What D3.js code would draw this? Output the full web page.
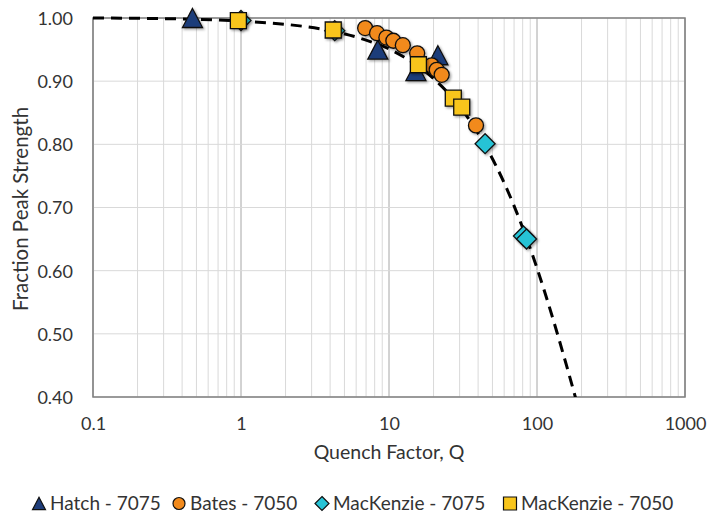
<!DOCTYPE html>
<html><head><meta charset="utf-8">
<script src="https://cdn.jsdelivr.net/npm/d3@7/dist/d3.min.js"></script>
<style>
body{margin:0;background:#fff;}
svg text{font-family:Lato,"Open Sans",sans-serif;fill:#333;}
</style></head>
<body><svg id="c" width="707" height="514"></svg>
<script>
// ---- data ----
const hatchQ = [0.47, 8.4, 15.2, 21.4];
const hatchV = [1.000, 0.950, 0.916, 0.941];
const batesQ = [6.9, 8.3, 9.6, 10.7, 12.4, 15.5, 19.4, 21.0, 22.7, 38.7];
const batesV = [0.984, 0.976, 0.969, 0.964, 0.957, 0.944, 0.925, 0.918, 0.910, 0.830];
const mack75Q = [1.0, 4.3, 44.6, 81, 85];
const mack75V = [0.996, 0.980, 0.801, 0.655, 0.650];
const mack50Q = [0.96, 4.2, 15.8, 27.2, 31.0];
const mack50V = [0.996, 0.981, 0.926, 0.873, 0.859];
// dashed fit curve
const fitQ = [0.1, 0.5, 1, 2, 4, 7, 10, 15, 20, 30, 45, 60, 80, 100, 130, 160, 182];
const fitV = [1.000, 0.998, 0.995, 0.990, 0.980, 0.965, 0.951, 0.927, 0.904, 0.860, 0.797, 0.739, 0.668, 0.604, 0.519, 0.446, 0.399];
const xTicks = [0.1, 1, 10, 100, 1000];
const xTickLabels = ["0.1", "1", "10", "100", "1000"];
const yTicks = [0.4, 0.5, 0.6, 0.7, 0.8, 0.9, 1.0];
const seriesNames = ["Hatch - 7075", "Bates - 7050", "MacKenzie - 7075", "MacKenzie - 7050"];
const seriesColors = ["#1f3d7a", "#f28a1c", "#27c3d6", "#f8c51c"];
const seriesShapes = ["triangle", "circle", "diamond", "square"];

const svg = d3.select("#c");
const L = 93, R = 685, T = 18, B = 397;
const x = d3.scaleLog().domain([0.1, 1000]).range([L, R]);
const y = d3.scaleLinear().domain([0.4, 1.0]).range([B, T]);

const defs = svg.append("defs");
const f = defs.append("filter").attr("id","sh").attr("x","-50%").attr("y","-50%").attr("width","200%").attr("height","200%");
f.append("feDropShadow").attr("dx",1.5).attr("dy",1.5).attr("stdDeviation",1.2).attr("flood-color","#000").attr("flood-opacity",0.35);
defs.append("clipPath").attr("id","clip").append("rect").attr("x",L).attr("y",T-2).attr("width",R-L).attr("height",B-T+2);

// grid
const g = svg.append("g");
g.selectAll(".vg").data(x.ticks()).join("line")
  .attr("x1", d => x(d)).attr("x2", d => x(d)).attr("y1", T).attr("y2", B)
  .attr("stroke", d => xTicks.includes(d) ? "#a6a6a6" : "#d9d9d9").attr("stroke-width", 1);
g.selectAll(".hg").data(yTicks).join("line")
  .attr("x1", L).attr("x2", R).attr("y1", d => y(d)).attr("y2", d => y(d))
  .attr("stroke", "#d9d9d9").attr("stroke-width", 1);
svg.append("rect").attr("x", L).attr("y", T).attr("width", R - L).attr("height", B - T)
  .attr("fill", "none").attr("stroke", "#7f7f7f").attr("stroke-width", 1.5);

// axes
const xa = svg.append("g").attr("transform", `translate(0,${B + 17})`)
  .call(d3.axisBottom(x).tickValues(xTicks).tickSize(0).tickFormat((d, i) => xTickLabels[i]));
xa.select(".domain").remove();
xa.selectAll("text").attr("font-size", 18).attr("fill", "#333");
const ya = svg.append("g").attr("transform", `translate(${L - 20},0)`)
  .call(d3.axisLeft(y).tickValues(yTicks).tickSize(0).tickPadding(0).tickFormat(d3.format(".2f")));
ya.select(".domain").remove();
ya.selectAll("text").attr("font-size", 18).attr("fill", "#333").attr("dy", "0.36em");

svg.append("text").attr("x", 389).attr("y", 459).attr("text-anchor", "middle").attr("font-size", 19.5).text("Quench Factor, Q");
svg.append("text").attr("transform", "translate(28,209) rotate(-90)").attr("text-anchor", "middle").attr("font-size", 20.5).text("Fraction Peak Strength");

// fit curve
const fit = fitQ.map((q, i) => [q, fitV[i]]);
svg.append("path").datum(fit).attr("clip-path", "url(#clip)")
  .attr("d", d3.line().x(d => x(d[0])).y(d => y(d[1])).curve(d3.curveMonotoneX))
  .attr("fill", "none").attr("stroke", "#000").attr("stroke-width", 3).attr("stroke-dasharray", "11,7");

function shapePath(shape, s) {
  if (shape === "triangle") { const h = s * 0.95, w = s; return `M0,${-h/2}L${w/2},${h/2}L${-w/2},${h/2}Z`; }
  if (shape === "circle") { const r = s / 2; return `M${r},0A${r},${r} 0 1,1 ${-r},0A${r},${r} 0 1,1 ${r},0Z`; }
  if (shape === "diamond") { const r = s / 2; return `M0,${-r}L${r},0L0,${r}L${-r},0Z`; }
  const h = s / 2; return `M${-h},${-h}L${h},${-h}L${h},${h}L${-h},${h}Z`;
}
const sizes = [20, 15, 20, 16];
const allQ = [hatchQ, batesQ, mack75Q, mack50Q];
const allV = [hatchV, batesV, mack75V, mack50V];
allQ.forEach((qs, si) => {
  const pts = qs.map((q, i) => [q, allV[si][i]]);
  svg.append("g").selectAll("path").data(pts).join("path")
    .attr("d", shapePath(seriesShapes[si], sizes[si]))
    .attr("transform", d => `translate(${x(d[0])},${y(d[1])})`)
    .attr("fill", seriesColors[si]).attr("stroke", "#111").attr("stroke-width", 1.3)
    .attr("filter", "url(#sh)");
});

// legend
const legX = [39, 179, 322, 510];
const legS = [13, 12, 14, 13];
const lg = svg.append("g");
seriesNames.forEach((n, i) => {
  lg.append("path").attr("d", shapePath(seriesShapes[i], legS[i]))
    .attr("transform", `translate(${legX[i]},${503.5})`)
    .attr("fill", seriesColors[i]).attr("stroke", "#111").attr("stroke-width", 1.2);
  lg.append("text").attr("x", legX[i] + 11).attr("y", 510).attr("font-size", 19).text(n);
});
</script></body></html>
